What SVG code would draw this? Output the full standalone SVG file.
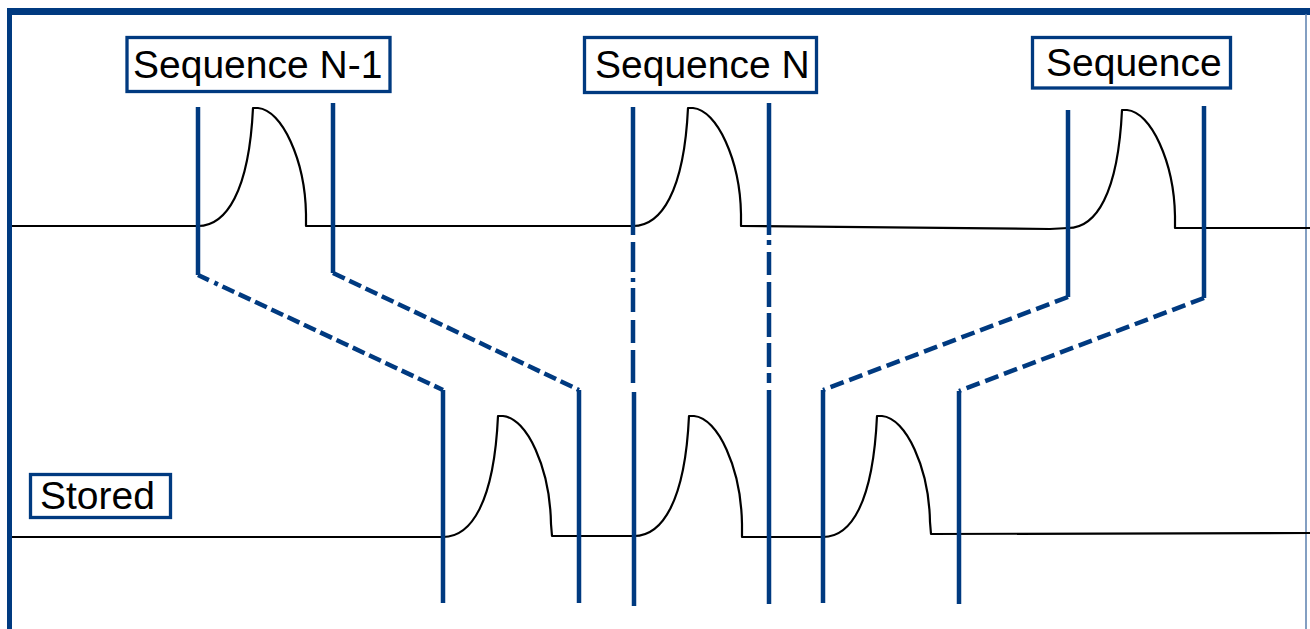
<svg xmlns="http://www.w3.org/2000/svg" width="1310" height="629" viewBox="0 0 1310 629">
<style>
.frame{stroke:#003a80;fill:none}
.box{fill:#ffffff;stroke:#003a80;stroke-width:3.3}
.lbl{font-family:"Liberation Sans",Arial,sans-serif;font-size:39px;fill:#000000}
.wave{fill:none;stroke:#000000;stroke-width:2.2;stroke-linejoin:round}
.blue{fill:none;stroke:#003a80;stroke-width:4.5;stroke-linejoin:miter}
.dash{stroke-dasharray:13 5}
</style>
<rect width="1310" height="629" fill="#ffffff"/>
<g id="frame">
<line class="frame" x1="7" y1="11.5" x2="1310" y2="11.5" stroke-width="7"/>
<line class="frame" x1="9.5" y1="8" x2="9.5" y2="629" stroke-width="5"/>
<line x1="1306" y1="14" x2="1306" y2="629" stroke="#5a7fae" stroke-width="1.5"/>
</g>
<g id="waveforms">
<path class="wave" d="M12,226 L198,226 C226,226 249,192 253,108 L258,108 C282,110 305,160 306,214 L306,226 L633,226 C661,226 684,192 688,108 L693,108 C717,110 740,160 741,214 L741,226 L1050,229 L1068,228 C1096,228 1118,194 1122,110 L1127,110 C1151,112 1174,162 1175,216 L1175,228 L1310,228"/>
<path class="wave" d="M12,537 L443,537 C471,537 494,503 498,416 L503,416 C527,418 550,468 551,524 L552,536 L634,536 C662,536 685,502 689,416 L694,416 C718,418 741,468 742,524 L742,537 L823,537 C851,537 873,503 877,416 L882,416 C906,418 929,468 930,522 L931,534 L1310,533"/>
</g>
<g id="connectors">
<path class="blue" d="M198,107 L198,275"/>
<path class="blue" d="M198,275 L443,390" stroke-dasharray="12 6 4 5 13 5 13 5 13 5 13 5 13 5 13 5 13 5 13 5 13 5 13 5 13 5 13 5 13 5 13 5 13 5 13 5"/>
<path class="blue" d="M443,390 L443,603"/>
<path class="blue" d="M333,103 L333,273"/>
<path class="blue dash" d="M333,273 L579,390"/>
<path class="blue" d="M579,390 L579,603"/>
<path class="blue" d="M633,107 L633,235"/>
<path class="blue" d="M633,242 L633,383" stroke-dasharray="30 6 4 6 24 8 23 7 33 100"/>
<path class="blue" d="M634,392 L634,606"/>
<path class="blue" d="M769,103 L769,235"/>
<path class="blue" d="M769,240 L769,383" stroke-dasharray="5 7 23 7 25 6 24 6 24 6 10 100"/>
<path class="blue" d="M769,390 L769,604"/>
<path class="blue" d="M1068,110 L1068,297"/>
<path class="blue" d="M1068,297 L823,390" stroke-dasharray="14 6"/>
<path class="blue" d="M823,390 L823,603"/>
<path class="blue" d="M1204,106 L1204,298"/>
<path class="blue" d="M1204,298 L959,391" stroke-dasharray="14 6"/>
<path class="blue" d="M959,391 L959,604"/>
</g>
<g id="node-seq-n-1">
<rect class="box" x="127" y="37.5" width="263" height="54"/>
<text class="lbl" x="133" y="78">Sequence N-1</text>
</g>
<g id="node-seq-n">
<rect class="box" x="584.5" y="37.5" width="232" height="55"/>
<text class="lbl" x="595" y="78">Sequence N</text>
</g>
<g id="node-seq">
<rect class="box" x="1032.5" y="37.5" width="198" height="50.5"/>
<text class="lbl" x="1046" y="76">Sequence</text>
</g>
<g id="node-stored">
<rect class="box" x="30.5" y="474.5" width="140" height="43"/>
<text class="lbl" x="40" y="509">Stored</text>
</g>
</svg>
